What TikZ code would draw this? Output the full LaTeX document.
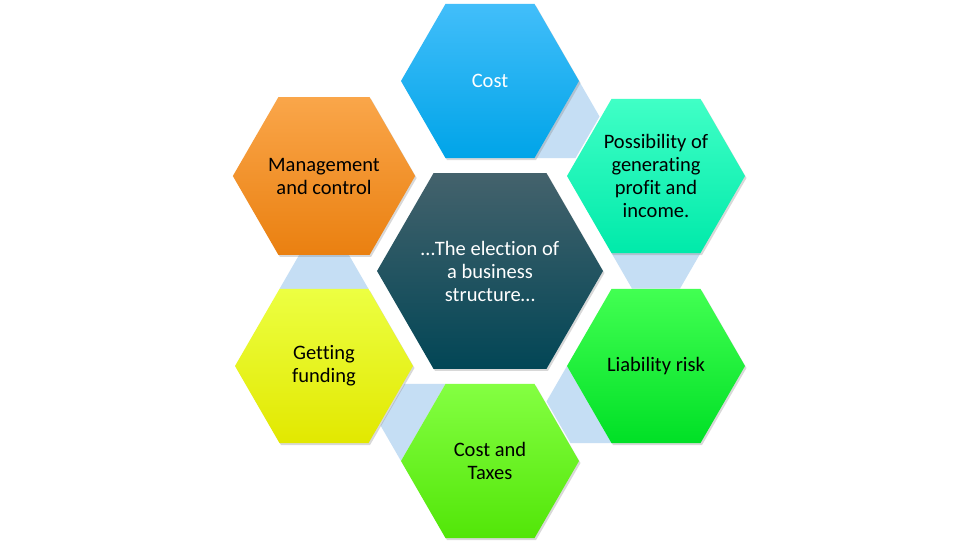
\documentclass[tikz,border=0pt]{standalone}
\usepackage{fontspec}
\setmainfont{Carlito}[Ligatures=NoCommon]
\usetikzlibrary{calc,shapes.geometric,shadows,backgrounds}
\definecolor{connc}{RGB}{197,222,244}
\definecolor{costT}{RGB}{66,190,250}\definecolor{costB}{RGB}{0,164,232}
\definecolor{posT}{RGB}{64,255,198}\definecolor{posB}{RGB}{0,234,170}
\definecolor{liaT}{RGB}{66,255,82}\definecolor{liaB}{RGB}{0,224,38}
\definecolor{ctT}{RGB}{132,255,66}\definecolor{ctB}{RGB}{82,230,8}
\definecolor{funT}{RGB}{236,255,66}\definecolor{funB}{RGB}{226,232,0}
\definecolor{mgT}{RGB}{250,166,74}\definecolor{mgB}{RGB}{234,128,16}
\definecolor{cenT}{RGB}{68,98,108}\definecolor{cenB}{RGB}{2,70,86}
\tikzset{
  hexbox/.style={regular polygon, regular polygon sides=6,
    minimum size=178pt, inner sep=0pt, outer sep=0pt, align=center,
    font=\fontsize{20.5}{23}\selectfont, text=black,
    drop shadow={opacity=0.3, shadow xshift=1.5pt, shadow yshift=-2pt}},
  bighex/.style={hexbox, minimum size=218pt, text=white},
  conn/.style={fill=connc}
}
% y axis points down: polar angle a is drawn at visual angle -a
\newcommand{\hexlink}[3]{%
  \fill[conn] ($(#1.center)+(#2:89)$) -- ($(#1.center)+(#2:89)+(#3:41)$)
    -- ($(#1.center)+(#3:89)+(#2:41)$) -- ($(#1.center)+(#3:89)$) -- cycle;}
\begin{document}
\begin{tikzpicture}[x=1pt,y=-1pt]
\path[use as bounding box] (0,0) rectangle (980,547);
\node[bighex, top color=cenT, bottom color=cenB] (center) at (490,271) {\ldots The election of\\a business\\structure\ldots};
\node[hexbox, top color=costT, bottom color=costB, text=white] (cost) at (490,81) {Cost};
\node[hexbox, top color=posT, bottom color=posB] (profit) at (656,176) {Possibility of\\generating\\profit and\\income.};
\node[hexbox, top color=liaT, bottom color=liaB] (liab) at (656,366) {Liability risk};
\node[hexbox, top color=ctT, bottom color=ctB] (taxes) at (490,461) {Cost and\\Taxes};
\node[hexbox, top color=funT, bottom color=funB] (fund) at (324,366) {Getting\\funding};
\node[hexbox, top color=mgT, bottom color=mgB] (mgmt) at (324,176) {Management\\and control};
\begin{scope}[on background layer]
\fill[white] (0,0) rectangle (980,547);
\hexlink{cost}{0}{60}
\hexlink{profit}{60}{120}
\hexlink{liab}{120}{180}
\hexlink{taxes}{-180}{-120}
\hexlink{fund}{-120}{-60}
\end{scope}
\end{tikzpicture}
\end{document}
